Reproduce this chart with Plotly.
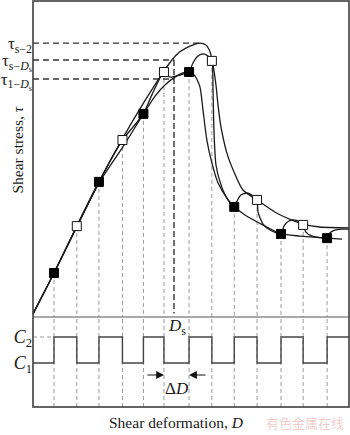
import plotly.graph_objects as go

# ---------------- data ----------------
# deformation D at which the normal stress switches (C1 -> C2 at even index, C2 -> C1 at odd index)
D_switch = [1.0, 2.0, 2.97, 4.0, 4.92, 5.82, 6.92, 7.92, 8.9, 9.9, 10.95, 11.92, 12.97]
tau_switch = [1.46, 3.02, 4.49, 5.88, 6.75, 8.14, 8.14, 8.51, 3.66, 3.89, 2.76, 3.06, 2.62]

# constant C2 curve
D_c2 = [0.08, 1.0, 2.0, 2.97, 4.02, 4.90, 5.82, 6.17, 6.52, 6.96, 7.40, 7.66, 7.84, 7.97,
        8.10, 8.19, 8.32, 8.63, 9.28, 9.90, 10.68, 11.43, 11.91, 12.66, 13.93]
tau_c2 = [0.10, 1.46, 3.02, 4.49, 5.95, 7.08, 8.17, 8.54, 8.81, 9.00, 9.10, 9.04, 8.81, 8.37,
          7.71, 7.04, 6.31, 5.32, 4.22, 3.89, 3.49, 3.22, 3.09, 2.99, 2.96]

# constant C1 curve
D_c1 = [0.08, 1.0, 2.0, 2.97, 4.02, 4.92, 5.43, 5.86, 6.30, 6.65, 6.92, 7.18, 7.40, 7.53,
        7.70, 7.92, 8.19, 8.63, 8.90, 9.37, 10.25, 10.95, 11.78, 12.97, 13.62]
tau_c1 = [0.10, 1.46, 2.99, 4.45, 5.65, 6.75, 7.34, 7.71, 7.97, 8.11, 8.14, 8.01, 7.64, 6.88,
          5.88, 5.12, 4.45, 3.89, 3.66, 3.39, 3.02, 2.76, 2.69, 2.62, 2.59]

# cyclic (C1/C2 alternating) curve
D_cy = [0.08, 1.0, 2.0, 2.97, 4.0, 4.46, 4.92, 5.29, 5.82, 6.08, 6.52, 6.92, 7.09, 7.31, 7.53,
        7.75, 7.92, 7.97, 8.01, 8.10, 8.32, 8.63, 8.90, 9.02, 9.19, 9.46, 9.72, 9.90, 9.94, 10.16,
        10.47, 10.95, 11.08, 11.30, 11.56, 11.78, 11.92, 12.04, 12.31, 12.66, 12.97, 13.09, 13.31,
        13.62, 13.93]
tau_cy = [0.10, 1.46, 3.02, 4.49, 5.88, 6.31, 6.75, 7.38, 8.14, 7.97, 8.04, 8.14, 8.44, 8.67, 8.74,
          8.67, 8.51, 7.54, 6.21, 5.05, 4.39, 3.89, 3.66, 3.85, 4.05, 4.12, 4.02, 3.89, 3.49, 3.09,
          2.89, 2.76, 3.02, 3.19, 3.22, 3.16, 3.06, 2.82, 2.69, 2.64, 2.62, 2.79, 2.89, 2.92, 2.92]

# characteristic levels
tau_levels = [9.10, 8.54, 7.91]
tau_labels = ["τ<sub>s−2</sub>", "τ<sub>s−<i>D</i><sub>s</sub></sub>", "τ<sub>1−<i>D</i><sub>s</sub></sub>"]
tau_level_end = [7.40, 6.26, 6.26]
D_s = 6.26

C_levels = [7.0, 4.4]
C_labels = ["<i>C</i><sub>2</sub>", "<i>C</i><sub>1</sub>"]

D_min, D_max = 0.08, 13.93
tau_max = 10.5
C_max = 9.0

SERIF = "Liberation Serif, Times New Roman, serif"
INK = "#1a1a1a"

fig = go.Figure()

# gray dashed guide lines from every switch point down to the bottom
gx, gy = [], []
for d, t in zip(D_switch, tau_switch):
    gx += [d, d, None]
    gy += [t, 0, None]
fig.add_trace(go.Scatter(x=gx, y=gy, mode="lines", xaxis="x", yaxis="y",
                         line=dict(color="#9a9a9a", width=1, dash="4px,3px"), hoverinfo="skip"))
lx, ly = [], []
for d in D_switch:
    lx += [d, d, None]
    ly += [0, C_max, None]
fig.add_trace(go.Scatter(x=lx, y=ly, mode="lines", xaxis="x2", yaxis="y2",
                         line=dict(color="#9a9a9a", width=1, dash="4px,3px"), hoverinfo="skip"))

# dark dashed level lines
hx, hy = [], []
for t, e in zip(tau_levels, tau_level_end):
    hx += [D_min, e, None]
    hy += [t, t, None]
fig.add_trace(go.Scatter(x=hx, y=hy, mode="lines", xaxis="x", yaxis="y",
                         line=dict(color="#333", width=1.4, dash="6px,4px"), hoverinfo="skip"))
fig.add_trace(go.Scatter(x=[D_s, D_s], y=[tau_levels[1], 0.12], mode="lines", xaxis="x", yaxis="y",
                         line=dict(color="#333", width=1.4, dash="6px,3px"), hoverinfo="skip"))

# curves
for xs, ys in [(D_c2, tau_c2), (D_c1, tau_c1), (D_cy, tau_cy)]:
    fig.add_trace(go.Scatter(x=xs, y=ys, mode="lines", xaxis="x", yaxis="y",
                             line=dict(color=INK, width=1.3, shape="spline", smoothing=0.6),
                             hoverinfo="skip"))

# markers
fig.add_trace(go.Scatter(x=D_switch[0::2], y=tau_switch[0::2], mode="markers", xaxis="x", yaxis="y",
                         marker=dict(symbol="square", size=9, color="#000",
                                     line=dict(color="#000", width=1))))
fig.add_trace(go.Scatter(x=D_switch[1::2], y=tau_switch[1::2], mode="markers", xaxis="x", yaxis="y",
                         marker=dict(symbol="square", size=9, color="#fff",
                                     line=dict(color="#111", width=1))))

# lower panel: square wave of normal stress
wx = [D_min] + D_switch + [D_max]
wy = [C_levels[1]] + [C_levels[0] if i % 2 == 0 else C_levels[1] for i in range(len(D_switch))] + [C_levels[0]]
fig.add_trace(go.Scatter(x=[D_min, D_switch[0]], y=[C_levels[0], C_levels[0]], mode="lines",
                         xaxis="x2", yaxis="y2",
                         line=dict(color="#9a9a9a", width=1, dash="4px,3px"), hoverinfo="skip"))
fig.add_trace(go.Scatter(x=wx, y=wy, mode="lines", xaxis="x2", yaxis="y2",
                         line=dict(color="#444", width=1.4, shape="hv"), hoverinfo="skip"))

split = 90 / 406
fig.update_layout(
    width=350, height=435,
    margin=dict(l=33, r=1, t=1, b=28),
    paper_bgcolor="white", plot_bgcolor="white",
    showlegend=False,
    xaxis=dict(domain=[0, 1], anchor="y", range=[D_min, D_max], visible=False),
    xaxis2=dict(domain=[0, 1], anchor="y2", range=[D_min, D_max], visible=False),
    yaxis=dict(domain=[split, 1], anchor="x", range=[0, tau_max], showgrid=False, zeroline=False,
               showline=False, ticks="", tickvals=tau_levels, ticktext=tau_labels,
               tickfont=dict(family=SERIF, size=17, color=INK)),
    yaxis2=dict(domain=[0, split], anchor="x2", range=[0, C_max], showgrid=False, zeroline=False,
                showline=False, ticks="", tickvals=C_levels, ticktext=C_labels,
                tickfont=dict(family=SERIF, size=18, color=INK)),
    shapes=[
        dict(type="rect", xref="paper", yref="paper", x0=0, x1=1, y0=0, y1=1,
             line=dict(color="#333", width=1.5)),
        dict(type="line", xref="paper", yref="y2 domain", x0=0, x1=1, y0=1, y1=1,
             line=dict(color="#555", width=1.2)),
    ],
    annotations=[
        dict(text="Shear stress, <i>τ</i>", xref="paper", yref="paper", x=-0.052, y=0.633,
             textangle=-90, showarrow=False, font=dict(family=SERIF, size=15.5, color=INK),
             xanchor="center", yanchor="middle"),
        dict(text="Shear deformation, <i>D</i>", xref="paper", yref="paper", x=0.4525, y=-0.037,
             showarrow=False, font=dict(family=SERIF, size=15.5, color=INK),
             xanchor="center", yanchor="middle"),
        dict(text="有色金属在线", xref="paper", yref="paper", x=0.862, y=-0.037,
             showarrow=False, font=dict(family="Noto Sans CJK SC", size=13, color="rgba(225,140,140,0.45)"),
             xanchor="center", yanchor="middle"),
        dict(text="<i>D</i><sub>s</sub>", xref="x2", yref="y2", x=D_s, y=8.0, xshift=3,
             showarrow=False, font=dict(family=SERIF, size=17, color=INK),
             xanchor="center", yanchor="middle"),
        dict(text="Δ<i>D</i>", xref="x2", yref="y2", x=(D_switch[5] + D_switch[6]) / 2, y=1.9,
             showarrow=False, font=dict(family=SERIF, size=17, color=INK),
             xanchor="center", yanchor="middle"),
        dict(text="", xref="x2", yref="y2", x=D_switch[5], y=3.2, ax=-18, ay=0,
             showarrow=True, arrowhead=2, arrowsize=1.3, arrowwidth=1.2, arrowcolor="#111"),
        dict(text="", xref="x2", yref="y2", x=D_switch[6], y=3.2, ax=18, ay=0,
             showarrow=True, arrowhead=2, arrowsize=1.3, arrowwidth=1.2, arrowcolor="#111"),
    ],
)

fig.write_html("out.html")
